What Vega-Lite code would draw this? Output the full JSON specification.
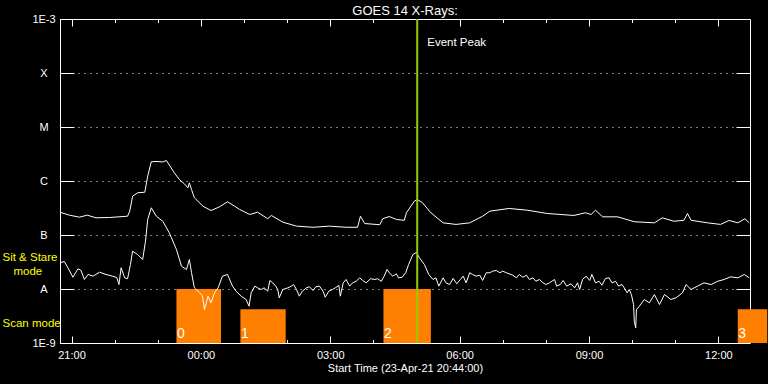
{
  "$schema": "https://vega.github.io/schema/vega-lite/v6.json",
  "width": 690,
  "height": 324,
  "autosize": {"type": "none"},
  "padding": {"left": 60, "top": 19, "right": 18, "bottom": 41},
  "background": "black",
  "config": {
    "view": {"stroke": null},
    "axis": {
      "domainColor": "white", "tickColor": "white", "labelColor": "white", "titleColor": "white",
      "labelFont": "Liberation Sans", "titleFont": "Liberation Sans", "labelFontSize": 11, "titleFontSize": 11,
      "titleFontWeight": "normal", "domainWidth": 1, "tickWidth": 1, "zindex": 1, "grid": false,
      "labelOverlap": false, "labelFlush": false, "labelBound": false
    }
  },
  "title": {"text": "GOES 14 X-Rays:", "color": "white", "font": "Liberation Sans", "fontSize": 13, "fontWeight": "normal", "offset": -5},
  "resolve": {"axis": {"x": "independent", "y": "independent"}},
  "datasets": {
    "long": [
      {"t": "2021-04-23T20:44Z", "flux": 2.64e-7}, {"t": "2021-04-23T20:57Z", "flux": 2.33e-7},
      {"t": "2021-04-23T21:11Z", "flux": 2.14e-7}, {"t": "2021-04-23T21:22Z", "flux": 2.33e-7},
      {"t": "2021-04-23T21:34Z", "flux": 2.08e-7}, {"t": "2021-04-23T21:53Z", "flux": 2.11e-7},
      {"t": "2021-04-23T22:18Z", "flux": 2.23e-7}, {"t": "2021-04-23T22:21Z", "flux": 2.76e-7},
      {"t": "2021-04-23T22:25Z", "flux": 5.23e-7}, {"t": "2021-04-23T22:32Z", "flux": 6.05e-7},
      {"t": "2021-04-23T22:42Z", "flux": 6.2e-7}, {"t": "2021-04-23T22:46Z", "flux": 1.23e-6},
      {"t": "2021-04-23T22:51Z", "flux": 2.27e-6}, {"t": "2021-04-23T22:59Z", "flux": 2.3e-6},
      {"t": "2021-04-23T23:07Z", "flux": 2.25e-6}, {"t": "2021-04-23T23:12Z", "flux": 2.4e-6},
      {"t": "2021-04-23T23:23Z", "flux": 1.42e-6}, {"t": "2021-04-23T23:30Z", "flux": 1.07e-6},
      {"t": "2021-04-23T23:37Z", "flux": 8.87e-7}, {"t": "2021-04-23T23:42Z", "flux": 7.48e-7},
      {"t": "2021-04-23T23:44Z", "flux": 9.26e-7}, {"t": "2021-04-23T23:47Z", "flux": 6.96e-7},
      {"t": "2021-04-23T23:51Z", "flux": 4.89e-7}, {"t": "2021-04-24T00:03Z", "flux": 3.41e-7},
      {"t": "2021-04-24T00:14Z", "flux": 2.84e-7}, {"t": "2021-04-24T00:26Z", "flux": 3.33e-7},
      {"t": "2021-04-24T00:37Z", "flux": 4.12e-7}, {"t": "2021-04-24T00:47Z", "flux": 3.41e-7},
      {"t": "2021-04-24T00:54Z", "flux": 2.97e-7}, {"t": "2021-04-24T01:08Z", "flux": 2.4e-7},
      {"t": "2021-04-24T01:19Z", "flux": 2.64e-7}, {"t": "2021-04-24T01:33Z", "flux": 2.0e-7},
      {"t": "2021-04-24T01:38Z", "flux": 2.3e-7}, {"t": "2021-04-24T01:54Z", "flux": 1.73e-7},
      {"t": "2021-04-24T02:13Z", "flux": 1.46e-7}, {"t": "2021-04-24T02:36Z", "flux": 1.39e-7},
      {"t": "2021-04-24T02:59Z", "flux": 1.46e-7}, {"t": "2021-04-24T03:22Z", "flux": 1.39e-7},
      {"t": "2021-04-24T03:38Z", "flux": 1.39e-7}, {"t": "2021-04-24T03:42Z", "flux": 2.23e-7},
      {"t": "2021-04-24T03:48Z", "flux": 1.63e-7}, {"t": "2021-04-24T04:09Z", "flux": 1.55e-7},
      {"t": "2021-04-24T04:13Z", "flux": 2.0e-7}, {"t": "2021-04-24T04:22Z", "flux": 2.2e-7},
      {"t": "2021-04-24T04:32Z", "flux": 1.94e-7}, {"t": "2021-04-24T04:43Z", "flux": 1.87e-7},
      {"t": "2021-04-24T04:46Z", "flux": 2.58e-7}, {"t": "2021-04-24T04:57Z", "flux": 4.23e-7},
      {"t": "2021-04-24T05:01Z", "flux": 4.54e-7}, {"t": "2021-04-24T05:08Z", "flux": 4.0e-7},
      {"t": "2021-04-24T05:20Z", "flux": 2.58e-7}, {"t": "2021-04-24T05:37Z", "flux": 1.68e-7},
      {"t": "2021-04-24T05:55Z", "flux": 1.57e-7}, {"t": "2021-04-24T06:14Z", "flux": 1.68e-7},
      {"t": "2021-04-24T06:32Z", "flux": 2.23e-7}, {"t": "2021-04-24T06:42Z", "flux": 2.76e-7},
      {"t": "2021-04-24T07:09Z", "flux": 3.1e-7}, {"t": "2021-04-24T07:34Z", "flux": 2.88e-7},
      {"t": "2021-04-24T08:02Z", "flux": 2.5e-7}, {"t": "2021-04-24T08:39Z", "flux": 2.3e-7},
      {"t": "2021-04-24T08:55Z", "flux": 2.58e-7}, {"t": "2021-04-24T09:03Z", "flux": 2.4e-7},
      {"t": "2021-04-24T09:09Z", "flux": 2.88e-7}, {"t": "2021-04-24T09:19Z", "flux": 2.17e-7},
      {"t": "2021-04-24T09:40Z", "flux": 2.17e-7}, {"t": "2021-04-24T10:03Z", "flux": 1.76e-7},
      {"t": "2021-04-24T10:31Z", "flux": 1.68e-7}, {"t": "2021-04-24T10:42Z", "flux": 2.08e-7},
      {"t": "2021-04-24T10:58Z", "flux": 1.8e-7}, {"t": "2021-04-24T11:12Z", "flux": 1.87e-7},
      {"t": "2021-04-24T11:17Z", "flux": 2.5e-7}, {"t": "2021-04-24T11:22Z", "flux": 1.87e-7},
      {"t": "2021-04-24T11:45Z", "flux": 1.68e-7}, {"t": "2021-04-24T12:03Z", "flux": 1.57e-7},
      {"t": "2021-04-24T12:15Z", "flux": 1.86e-7}, {"t": "2021-04-24T12:27Z", "flux": 1.68e-7},
      {"t": "2021-04-24T12:37Z", "flux": 2.0e-7}, {"t": "2021-04-24T12:43Z", "flux": 1.68e-7}
    ],
    "short": [
      {"t": "2021-04-23T20:44Z", "flux": 3.06e-8}, {"t": "2021-04-23T20:50Z", "flux": 3.23e-8},
      {"t": "2021-04-23T20:55Z", "flux": 2.47e-8}, {"t": "2021-04-23T21:02Z", "flux": 1.65e-8},
      {"t": "2021-04-23T21:09Z", "flux": 2.37e-8}, {"t": "2021-04-23T21:13Z", "flux": 2.23e-8},
      {"t": "2021-04-23T21:18Z", "flux": 1.5e-8}, {"t": "2021-04-23T21:23Z", "flux": 1.86e-8},
      {"t": "2021-04-23T21:30Z", "flux": 1.73e-8}, {"t": "2021-04-23T21:39Z", "flux": 2.05e-8},
      {"t": "2021-04-23T21:48Z", "flux": 1.86e-8}, {"t": "2021-04-23T21:57Z", "flux": 1.73e-8},
      {"t": "2021-04-23T22:03Z", "flux": 1.63e-8}, {"t": "2021-04-23T22:06Z", "flux": 1.21e-8},
      {"t": "2021-04-23T22:09Z", "flux": 2.47e-8}, {"t": "2021-04-23T22:14Z", "flux": 1.61e-8},
      {"t": "2021-04-23T22:18Z", "flux": 1.55e-8}, {"t": "2021-04-23T22:22Z", "flux": 2.84e-8},
      {"t": "2021-04-23T22:25Z", "flux": 5.01e-8}, {"t": "2021-04-23T22:32Z", "flux": 4.36e-8},
      {"t": "2021-04-23T22:39Z", "flux": 3.52e-8}, {"t": "2021-04-23T22:43Z", "flux": 7.68e-8},
      {"t": "2021-04-23T22:46Z", "flux": 1.94e-7}, {"t": "2021-04-23T22:51Z", "flux": 3.19e-7},
      {"t": "2021-04-23T22:58Z", "flux": 2.23e-7}, {"t": "2021-04-23T23:07Z", "flux": 1.8e-7},
      {"t": "2021-04-23T23:16Z", "flux": 1.1e-7}, {"t": "2021-04-23T23:26Z", "flux": 5.39e-8},
      {"t": "2021-04-23T23:33Z", "flux": 2.64e-8}, {"t": "2021-04-23T23:40Z", "flux": 2.3e-8},
      {"t": "2021-04-23T23:44Z", "flux": 3.52e-8}, {"t": "2021-04-23T23:47Z", "flux": 2.0e-8},
      {"t": "2021-04-23T23:51Z", "flux": 1.05e-8}, {"t": "2021-04-23T23:58Z", "flux": 8.5e-9},
      {"t": "2021-04-24T00:02Z", "flux": 7.58e-9}, {"t": "2021-04-24T00:05Z", "flux": 4.17e-9},
      {"t": "2021-04-24T00:10Z", "flux": 7.36e-9}, {"t": "2021-04-24T00:14Z", "flux": 5.55e-9},
      {"t": "2021-04-24T00:19Z", "flux": 8.5e-9}, {"t": "2021-04-24T00:24Z", "flux": 1.05e-8},
      {"t": "2021-04-24T00:30Z", "flux": 1.73e-8}, {"t": "2021-04-24T00:37Z", "flux": 1.86e-8},
      {"t": "2021-04-24T00:44Z", "flux": 1.13e-8}, {"t": "2021-04-24T00:49Z", "flux": 9.1e-9},
      {"t": "2021-04-24T00:56Z", "flux": 7.36e-9}, {"t": "2021-04-24T01:03Z", "flux": 6.39e-9},
      {"t": "2021-04-24T01:07Z", "flux": 4.8e-9}, {"t": "2021-04-24T01:10Z", "flux": 8.5e-9},
      {"t": "2021-04-24T01:15Z", "flux": 1.13e-8}, {"t": "2021-04-24T01:19Z", "flux": 1.05e-8},
      {"t": "2021-04-24T01:24Z", "flux": 9.79e-9}, {"t": "2021-04-24T01:28Z", "flux": 1.05e-8},
      {"t": "2021-04-24T01:33Z", "flux": 9.1e-9}, {"t": "2021-04-24T01:36Z", "flux": 1.44e-8},
      {"t": "2021-04-24T01:40Z", "flux": 1.3e-8}, {"t": "2021-04-24T01:44Z", "flux": 1.13e-8},
      {"t": "2021-04-24T01:47Z", "flux": 9.79e-9}, {"t": "2021-04-24T01:49Z", "flux": 6.87e-9},
      {"t": "2021-04-24T01:54Z", "flux": 9.79e-9}, {"t": "2021-04-24T02:01Z", "flux": 1.05e-8},
      {"t": "2021-04-24T02:06Z", "flux": 1.13e-8}, {"t": "2021-04-24T02:09Z", "flux": 1.21e-8},
      {"t": "2021-04-24T02:13Z", "flux": 9.79e-9}, {"t": "2021-04-24T02:17Z", "flux": 7.36e-9},
      {"t": "2021-04-24T02:21Z", "flux": 9.1e-9}, {"t": "2021-04-24T02:27Z", "flux": 1.05e-8},
      {"t": "2021-04-24T02:31Z", "flux": 1.1e-8}, {"t": "2021-04-24T02:36Z", "flux": 9.38e-9},
      {"t": "2021-04-24T02:40Z", "flux": 1.1e-8}, {"t": "2021-04-24T02:45Z", "flux": 1.13e-8},
      {"t": "2021-04-24T02:50Z", "flux": 9.1e-9}, {"t": "2021-04-24T02:53Z", "flux": 7.05e-9},
      {"t": "2021-04-24T02:58Z", "flux": 9.1e-9}, {"t": "2021-04-24T03:03Z", "flux": 9.79e-9},
      {"t": "2021-04-24T03:07Z", "flux": 1.05e-8}, {"t": "2021-04-24T03:12Z", "flux": 1.16e-8},
      {"t": "2021-04-24T03:14Z", "flux": 7.36e-9}, {"t": "2021-04-24T03:18Z", "flux": 1.3e-8},
      {"t": "2021-04-24T03:22Z", "flux": 1.5e-8}, {"t": "2021-04-24T03:27Z", "flux": 1.13e-8},
      {"t": "2021-04-24T03:31Z", "flux": 1.3e-8}, {"t": "2021-04-24T03:36Z", "flux": 1.39e-8},
      {"t": "2021-04-24T03:41Z", "flux": 1.61e-8}, {"t": "2021-04-24T03:45Z", "flux": 1.44e-8},
      {"t": "2021-04-24T03:50Z", "flux": 1.3e-8}, {"t": "2021-04-24T03:56Z", "flux": 1.55e-8},
      {"t": "2021-04-24T04:02Z", "flux": 1.5e-8}, {"t": "2021-04-24T04:06Z", "flux": 1.55e-8},
      {"t": "2021-04-24T04:11Z", "flux": 1.39e-8}, {"t": "2021-04-24T04:15Z", "flux": 1.73e-8},
      {"t": "2021-04-24T04:19Z", "flux": 2.3e-8}, {"t": "2021-04-24T04:22Z", "flux": 2.0e-8},
      {"t": "2021-04-24T04:27Z", "flux": 1.73e-8}, {"t": "2021-04-24T04:32Z", "flux": 1.91e-8},
      {"t": "2021-04-24T04:35Z", "flux": 1.61e-8}, {"t": "2021-04-24T04:40Z", "flux": 1.65e-8},
      {"t": "2021-04-24T04:45Z", "flux": 2.0e-8}, {"t": "2021-04-24T04:49Z", "flux": 2.84e-8},
      {"t": "2021-04-24T04:55Z", "flux": 4.36e-8}, {"t": "2021-04-24T05:00Z", "flux": 4.74e-8},
      {"t": "2021-04-24T05:04Z", "flux": 3.78e-8}, {"t": "2021-04-24T05:11Z", "flux": 2.84e-8},
      {"t": "2021-04-24T05:17Z", "flux": 1.86e-8}, {"t": "2021-04-24T05:23Z", "flux": 1.5e-8},
      {"t": "2021-04-24T05:27Z", "flux": 1.61e-8}, {"t": "2021-04-24T05:31Z", "flux": 1.13e-8},
      {"t": "2021-04-24T05:37Z", "flux": 1.61e-8}, {"t": "2021-04-24T05:41Z", "flux": 1.3e-8},
      {"t": "2021-04-24T05:46Z", "flux": 1.21e-8}, {"t": "2021-04-24T05:51Z", "flux": 1.57e-8},
      {"t": "2021-04-24T05:56Z", "flux": 1.25e-8}, {"t": "2021-04-24T06:01Z", "flux": 1.5e-8},
      {"t": "2021-04-24T06:05Z", "flux": 1.73e-8}, {"t": "2021-04-24T06:09Z", "flux": 1.3e-8},
      {"t": "2021-04-24T06:14Z", "flux": 2.0e-8}, {"t": "2021-04-24T06:18Z", "flux": 1.86e-8},
      {"t": "2021-04-24T06:23Z", "flux": 1.73e-8}, {"t": "2021-04-24T06:28Z", "flux": 1.8e-8},
      {"t": "2021-04-24T06:32Z", "flux": 1.44e-8}, {"t": "2021-04-24T06:37Z", "flux": 2.0e-8},
      {"t": "2021-04-24T06:42Z", "flux": 2.0e-8}, {"t": "2021-04-24T06:46Z", "flux": 2.14e-8},
      {"t": "2021-04-24T06:51Z", "flux": 2.2e-8}, {"t": "2021-04-24T06:56Z", "flux": 2.0e-8},
      {"t": "2021-04-24T07:00Z", "flux": 2.14e-8}, {"t": "2021-04-24T07:05Z", "flux": 2.0e-8},
      {"t": "2021-04-24T07:09Z", "flux": 1.91e-8}, {"t": "2021-04-24T07:14Z", "flux": 1.8e-8},
      {"t": "2021-04-24T07:19Z", "flux": 1.61e-8}, {"t": "2021-04-24T07:23Z", "flux": 1.86e-8},
      {"t": "2021-04-24T07:28Z", "flux": 1.65e-8}, {"t": "2021-04-24T07:33Z", "flux": 1.8e-8},
      {"t": "2021-04-24T07:37Z", "flux": 1.5e-8}, {"t": "2021-04-24T07:42Z", "flux": 1.61e-8},
      {"t": "2021-04-24T07:46Z", "flux": 1.39e-8}, {"t": "2021-04-24T07:51Z", "flux": 1.5e-8},
      {"t": "2021-04-24T07:56Z", "flux": 1.3e-8}, {"t": "2021-04-24T08:00Z", "flux": 1.21e-8},
      {"t": "2021-04-24T08:05Z", "flux": 1.3e-8}, {"t": "2021-04-24T08:12Z", "flux": 1.5e-8},
      {"t": "2021-04-24T08:15Z", "flux": 1.13e-8}, {"t": "2021-04-24T08:20Z", "flux": 1.21e-8},
      {"t": "2021-04-24T08:24Z", "flux": 1.44e-8}, {"t": "2021-04-24T08:29Z", "flux": 1.13e-8},
      {"t": "2021-04-24T08:35Z", "flux": 1.25e-8}, {"t": "2021-04-24T08:40Z", "flux": 1.05e-8},
      {"t": "2021-04-24T08:44Z", "flux": 1.3e-8}, {"t": "2021-04-24T08:47Z", "flux": 9.79e-9},
      {"t": "2021-04-24T08:51Z", "flux": 1.5e-8}, {"t": "2021-04-24T08:56Z", "flux": 1.73e-8},
      {"t": "2021-04-24T09:01Z", "flux": 1.44e-8}, {"t": "2021-04-24T09:04Z", "flux": 1.86e-8},
      {"t": "2021-04-24T09:09Z", "flux": 1.3e-8}, {"t": "2021-04-24T09:14Z", "flux": 1.39e-8},
      {"t": "2021-04-24T09:18Z", "flux": 1.18e-8}, {"t": "2021-04-24T09:23Z", "flux": 1.57e-8},
      {"t": "2021-04-24T09:28Z", "flux": 1.61e-8}, {"t": "2021-04-24T09:32Z", "flux": 1.3e-8},
      {"t": "2021-04-24T09:37Z", "flux": 1.39e-8}, {"t": "2021-04-24T09:41Z", "flux": 1.13e-8},
      {"t": "2021-04-24T09:46Z", "flux": 1.21e-8}, {"t": "2021-04-24T09:49Z", "flux": 1.05e-8},
      {"t": "2021-04-24T09:53Z", "flux": 8.5e-9}, {"t": "2021-04-24T09:56Z", "flux": 9.79e-9},
      {"t": "2021-04-24T09:59Z", "flux": 7.9e-9}, {"t": "2021-04-24T10:02Z", "flux": 5.16e-9},
      {"t": "2021-04-24T10:03Z", "flux": 2.53e-9}, {"t": "2021-04-24T10:05Z", "flux": 1.91e-9},
      {"t": "2021-04-24T10:06Z", "flux": 4.17e-9}, {"t": "2021-04-24T10:10Z", "flux": 4.8e-9},
      {"t": "2021-04-24T10:17Z", "flux": 6.39e-9}, {"t": "2021-04-24T10:24Z", "flux": 5.55e-9},
      {"t": "2021-04-24T10:31Z", "flux": 7.9e-9}, {"t": "2021-04-24T10:38Z", "flux": 5.16e-9},
      {"t": "2021-04-24T10:45Z", "flux": 7.9e-9}, {"t": "2021-04-24T10:54Z", "flux": 6.39e-9},
      {"t": "2021-04-24T11:01Z", "flux": 6.87e-9}, {"t": "2021-04-24T11:10Z", "flux": 8.5e-9},
      {"t": "2021-04-24T11:15Z", "flux": 1.21e-8}, {"t": "2021-04-24T11:22Z", "flux": 9.79e-9},
      {"t": "2021-04-24T11:31Z", "flux": 1.13e-8}, {"t": "2021-04-24T11:40Z", "flux": 1.3e-8},
      {"t": "2021-04-24T11:50Z", "flux": 1.21e-8}, {"t": "2021-04-24T11:59Z", "flux": 1.39e-8},
      {"t": "2021-04-24T12:08Z", "flux": 1.5e-8}, {"t": "2021-04-24T12:17Z", "flux": 1.68e-8},
      {"t": "2021-04-24T12:27Z", "flux": 1.61e-8}, {"t": "2021-04-24T12:36Z", "flux": 1.86e-8},
      {"t": "2021-04-24T12:43Z", "flux": 1.61e-8}
    ],
    "modes": [
      {"n": "0", "mode": "Sit & Stare", "start": "2021-04-23T23:26Z", "end": "2021-04-24T00:28Z", "level": 1e-8},
      {"n": "1", "mode": "Scan", "start": "2021-04-24T00:55Z", "end": "2021-04-24T01:58Z", "level": 4.2e-9},
      {"n": "2", "mode": "Sit & Stare", "start": "2021-04-24T04:14Z", "end": "2021-04-24T05:20Z", "level": 1e-8},
      {"n": "3", "mode": "Scan", "start": "2021-04-24T12:27Z", "end": "2021-04-24T13:08Z", "level": 4.2e-9}
    ],
    "peak": [{"t": "2021-04-24T05:01Z", "label": "Event Peak"}]
  },
  "layer": [
    {
      "data": {"name": "modes"},
      "mark": {"type": "rect", "color": "#ff8000"},
      "encoding": {
        "x": {"field": "start", "type": "temporal",
          "scale": {"type": "utc", "domain": [{"year": 2021, "month": 4, "date": 23, "hours": 20, "minutes": 44, "utc": true}, {"year": 2021, "month": 4, "date": 24, "hours": 12, "minutes": 44, "utc": true}], "nice": false},
          "axis": {"orient": "bottom", "format": "%H:%M", "tickSize": -7, "labelPadding": 13,
            "values": [
              {"year": 2021, "month": 4, "date": 23, "hours": 21, "utc": true},
              {"year": 2021, "month": 4, "date": 24, "hours": 0, "utc": true},
              {"year": 2021, "month": 4, "date": 24, "hours": 3, "utc": true},
              {"year": 2021, "month": 4, "date": 24, "hours": 6, "utc": true},
              {"year": 2021, "month": 4, "date": 24, "hours": 9, "utc": true},
              {"year": 2021, "month": 4, "date": 24, "hours": 12, "utc": true}],
            "title": "Start Time (23-Apr-21 20:44:00)", "titlePadding": 2}},
        "x2": {"field": "end"},
        "y": {"field": "level", "type": "quantitative",
          "scale": {"type": "log", "domain": [1e-9, 1e-3], "nice": false},
          "axis": {"orient": "left", "values": [1e-9, 1e-8, 1e-7, 1e-6, 1e-5, 1e-4, 1e-3], "tickSize": -14,
            "labelPadding": 30.5, "labelAlign": "center", "labelBaseline": "middle", "grid": true, "gridColor": "white", "gridDash": [1, 5], "gridOpacity": 1,
            "labelExpr": "datum.value > 5e-4 ? '1E-3' : datum.value > 5e-5 ? 'X' : datum.value > 5e-6 ? 'M' : datum.value > 5e-7 ? 'C' : datum.value > 5e-8 ? 'B' : datum.value > 5e-9 ? 'A' : '1E-9'",
            "title": null}},
        "y2": {"datum": 1e-9}
      }
    },
    {
      "data": {"name": "long"},
      "mark": {"type": "line", "color": "white", "strokeWidth": 1},
      "encoding": {
        "x": {"field": "t", "type": "temporal",
          "scale": {"type": "utc", "domain": [{"year": 2021, "month": 4, "date": 23, "hours": 20, "minutes": 44, "utc": true}, {"year": 2021, "month": 4, "date": 24, "hours": 12, "minutes": 44, "utc": true}], "nice": false},
          "axis": {"orient": "bottom", "tickSize": -3.5, "labels": false, "domain": false, "title": null,
            "values": [
              {"year": 2021, "month": 4, "date": 23, "hours": 21, "utc": true},
              {"year": 2021, "month": 4, "date": 23, "hours": 22, "utc": true},
              {"year": 2021, "month": 4, "date": 23, "hours": 23, "utc": true},
              {"year": 2021, "month": 4, "date": 24, "hours": 0, "utc": true},
              {"year": 2021, "month": 4, "date": 24, "hours": 1, "utc": true},
              {"year": 2021, "month": 4, "date": 24, "hours": 2, "utc": true},
              {"year": 2021, "month": 4, "date": 24, "hours": 3, "utc": true},
              {"year": 2021, "month": 4, "date": 24, "hours": 4, "utc": true},
              {"year": 2021, "month": 4, "date": 24, "hours": 5, "utc": true},
              {"year": 2021, "month": 4, "date": 24, "hours": 6, "utc": true},
              {"year": 2021, "month": 4, "date": 24, "hours": 7, "utc": true},
              {"year": 2021, "month": 4, "date": 24, "hours": 8, "utc": true},
              {"year": 2021, "month": 4, "date": 24, "hours": 9, "utc": true},
              {"year": 2021, "month": 4, "date": 24, "hours": 10, "utc": true},
              {"year": 2021, "month": 4, "date": 24, "hours": 11, "utc": true},
              {"year": 2021, "month": 4, "date": 24, "hours": 12, "utc": true}]}},
        "y": {"field": "flux", "type": "quantitative",
          "scale": {"type": "log", "domain": [1e-9, 1e-3], "nice": false},
          "axis": {"orient": "right", "values": [1e-8, 1e-7, 1e-6, 1e-5, 1e-4], "tickSize": -14, "labels": false, "title": null}}
      }
    },
    {
      "data": {"name": "short"},
      "mark": {"type": "line", "color": "white", "strokeWidth": 1},
      "encoding": {
        "x": {"field": "t", "type": "temporal",
          "scale": {"type": "utc", "domain": [{"year": 2021, "month": 4, "date": 23, "hours": 20, "minutes": 44, "utc": true}, {"year": 2021, "month": 4, "date": 24, "hours": 12, "minutes": 44, "utc": true}], "nice": false},
          "axis": {"orient": "top", "tickSize": -7, "labels": false, "title": null,
            "values": [
              {"year": 2021, "month": 4, "date": 23, "hours": 21, "utc": true},
              {"year": 2021, "month": 4, "date": 24, "hours": 0, "utc": true},
              {"year": 2021, "month": 4, "date": 24, "hours": 3, "utc": true},
              {"year": 2021, "month": 4, "date": 24, "hours": 6, "utc": true},
              {"year": 2021, "month": 4, "date": 24, "hours": 9, "utc": true},
              {"year": 2021, "month": 4, "date": 24, "hours": 12, "utc": true}]}},
        "y": {"field": "flux", "type": "quantitative",
          "scale": {"type": "log", "domain": [1e-9, 1e-3], "nice": false},
          "axis": {"orient": "left", "values": [3.83e-8, 2.34e-9], "ticks": false, "domain": false, "labelPadding": 58,
            "labelAlign": "left", "labelBaseline": "middle", "labelColor": "#ffff00", "labelFontSize": 11.5,
            "labelExpr": "datum.value > 3e-8 ? 'Sit & Stare' : 'Scan mode'",
            "title": null}}
      }
    },
    {
      "data": {"name": "peak"},
      "mark": {"type": "rule", "color": "#99cc00", "strokeWidth": 2},
      "encoding": {
        "x": {"field": "t", "type": "temporal",
          "scale": {"type": "utc", "domain": [{"year": 2021, "month": 4, "date": 23, "hours": 20, "minutes": 44, "utc": true}, {"year": 2021, "month": 4, "date": 24, "hours": 12, "minutes": 44, "utc": true}], "nice": false},
          "axis": {"orient": "top", "tickSize": -3.5, "labels": false, "domain": false, "title": null,
            "values": [
              {"year": 2021, "month": 4, "date": 23, "hours": 21, "utc": true},
              {"year": 2021, "month": 4, "date": 23, "hours": 22, "utc": true},
              {"year": 2021, "month": 4, "date": 23, "hours": 23, "utc": true},
              {"year": 2021, "month": 4, "date": 24, "hours": 0, "utc": true},
              {"year": 2021, "month": 4, "date": 24, "hours": 1, "utc": true},
              {"year": 2021, "month": 4, "date": 24, "hours": 2, "utc": true},
              {"year": 2021, "month": 4, "date": 24, "hours": 3, "utc": true},
              {"year": 2021, "month": 4, "date": 24, "hours": 4, "utc": true},
              {"year": 2021, "month": 4, "date": 24, "hours": 5, "utc": true},
              {"year": 2021, "month": 4, "date": 24, "hours": 6, "utc": true},
              {"year": 2021, "month": 4, "date": 24, "hours": 7, "utc": true},
              {"year": 2021, "month": 4, "date": 24, "hours": 8, "utc": true},
              {"year": 2021, "month": 4, "date": 24, "hours": 9, "utc": true},
              {"year": 2021, "month": 4, "date": 24, "hours": 10, "utc": true},
              {"year": 2021, "month": 4, "date": 24, "hours": 11, "utc": true},
              {"year": 2021, "month": 4, "date": 24, "hours": 12, "utc": true}]}}
      }
    },
    {
      "data": {"name": "peak"},
      "mark": {"type": "text", "color": "white", "font": "Liberation Sans", "fontSize": 11.5, "align": "left", "baseline": "middle", "dx": 10, "dy": 24},
      "encoding": {
        "x": {"field": "t", "type": "temporal", "axis": null,
          "scale": {"type": "utc", "domain": [{"year": 2021, "month": 4, "date": 23, "hours": 20, "minutes": 44, "utc": true}, {"year": 2021, "month": 4, "date": 24, "hours": 12, "minutes": 44, "utc": true}], "nice": false}},
        "y": {"datum": 1e-3, "type": "quantitative", "axis": null, "scale": {"type": "log", "domain": [1e-9, 1e-3], "nice": false}},
        "text": {"field": "label"}
      }
    },
    {
      "data": {"name": "modes"},
      "mark": {"type": "text", "color": "white", "font": "Liberation Sans", "fontSize": 14, "align": "left", "baseline": "alphabetic", "dx": 0.5, "dy": -5.5},
      "encoding": {
        "x": {"field": "start", "type": "temporal", "axis": null,
          "scale": {"type": "utc", "domain": [{"year": 2021, "month": 4, "date": 23, "hours": 20, "minutes": 44, "utc": true}, {"year": 2021, "month": 4, "date": 24, "hours": 12, "minutes": 44, "utc": true}], "nice": false}},
        "y": {"datum": 1e-9, "type": "quantitative", "scale": {"type": "log", "domain": [1e-9, 1e-3], "nice": false},
          "axis": {"orient": "left", "values": [2.15e-8], "ticks": false, "domain": false, "labelPadding": 47,
            "labelAlign": "left", "labelBaseline": "middle", "labelColor": "#ffff00", "labelFontSize": 11.5,
            "labelExpr": "'mode'", "title": null}},
        "text": {"field": "n"}
      }
    }
  ]
}
